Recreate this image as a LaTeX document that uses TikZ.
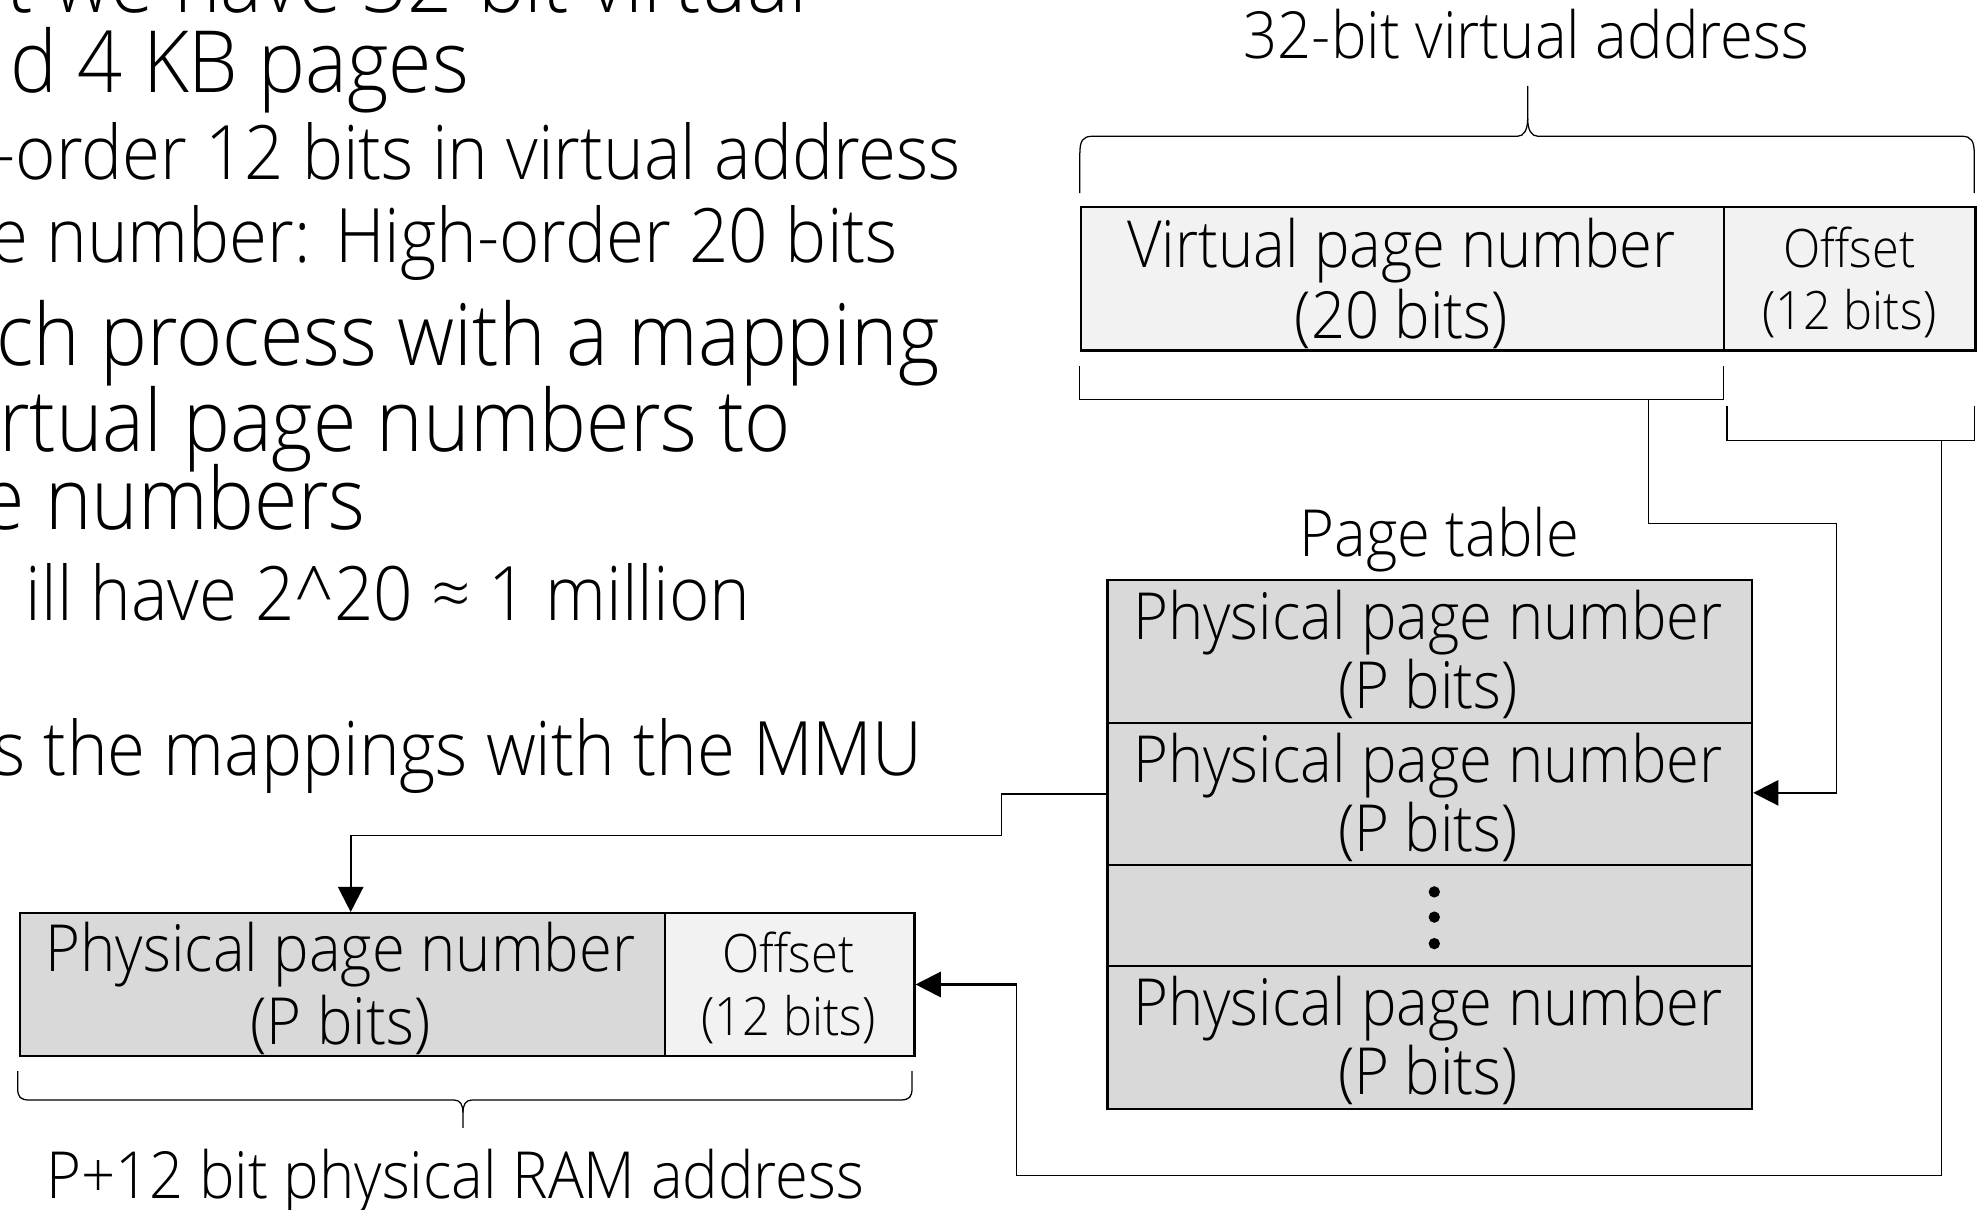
\documentclass[tikz,border=0pt]{standalone}
\usepackage{fontspec}
\setmainfont{Open Sans Light}[FakeStretch=0.92]
\usetikzlibrary{arrows.meta}
\definecolor{cellpale}{HTML}{F2F2F2}
\definecolor{cellgray}{HTML}{D9D9D9}
\tikzset{
  lbl/.style={inner sep=0pt, anchor=base, font=\fontsize{51.5}{60}\selectfont},
  offlbl/.style={inner sep=0pt, anchor=base, font=\fontsize{42}{50}\selectfont},
  bigtxt/.style={inner sep=0pt, anchor=base east, font=\fontsize{68}{76}\selectfont},
  smalltxt/.style={inner sep=0pt, anchor=base east, font=\fontsize{59.5}{66}\selectfont},
  cell/.style={draw, line width=1.8pt, inner sep=0pt, anchor=north west},
  wire/.style={line width=0.9pt},
  feed/.style={line width=1.8pt, -{Triangle[length=20pt,width=20pt]}},
  bracefine/.style={line width=1pt}
}
\begin{document}
\begin{tikzpicture}[x=1pt,y=-1pt]
\useasboundingbox (0,0) rectangle (1568,959);
\clip (0,0) rectangle (1568,959);

% slide text on the left (runs off the left edge)
\node[bigtxt]   (t1) at (640,10)  {t we have 32-bit virtual};
\node[bigtxt]   (t2) at (372,73)  {d 4 KB pages};
\node[smalltxt] (t3) at (762,142) {-order 12 bits in virtual address};
\node[smalltxt] (t4) at (712,208) {e number: High-order 20 bits};
\node[bigtxt]   (t5) at (745,290) {ch process with a mapping};
\node[bigtxt]   (t6) at (627,358) {rtual page numbers to};
\node[bigtxt]   (t7) at (290,420) {e numbers};
\node[smalltxt] (t8) at (595,492) {ill have 2\textasciicircum20 ≈ 1 million};
\node[smalltxt] (t9) at (731,615) {s the mappings with the MMU};

% virtual address
\node[lbl] (vtitle) at (1210,46) {32-bit virtual address};
\draw[bracefine] (856,153) -- (856,122) .. controls (856,112) and (858,108) .. (866,108)
  -- (1203,108) .. controls (1208,108) and (1211,103) .. (1211,94) -- (1211,68);
\draw[bracefine] (1211,94) .. controls (1211,103) and (1214,108) .. (1219,108)
  -- (1555,108) .. controls (1563,108) and (1565,112) .. (1565,122) -- (1565,153);

\node[cell, fill=cellpale, minimum width=510pt, minimum height=114pt] (vpn) at (856,163) {};
\node[cell, fill=cellpale, minimum width=199pt, minimum height=114pt] (voff) at (1366,163) {};
\node[lbl]    (vpnA) at (1111,212) {Virtual page number};
\node[lbl]    (vpnB) at (1111,268) {(20 bits)};
\node[offlbl] (voffA) at (1466,212) {Offset};
\node[offlbl] (voffB) at (1466,261) {(12 bits)};

% brackets under the two fields
\draw[wire] (856,290) -- (856,317) -- (1366,317) -- (1366,290);
\draw[wire] (1369,322) -- (1369,349) -- (1565,349) -- (1565,322);

% page table
\node[lbl] (ptitle) at (1141,441) {Page table};
\node[cell, fill=cellgray, minimum width=511pt, minimum height=113pt] (pt1) at (877,459) {};
\node[cell, fill=cellgray, minimum width=511pt, minimum height=113pt] (pt2) at (877,572) {};
\node[cell, fill=cellgray, minimum width=511pt, minimum height=80pt]  (pt3) at (877,685) {};
\node[cell, fill=cellgray, minimum width=511pt, minimum height=113pt] (pt4) at (877,765) {};
\node[lbl] (pt1A) at (1132,507) {Physical page number};
\node[lbl] (pt1B) at (1132,562) {(P bits)};
\node[lbl] (pt2A) at (1132,620) {Physical page number};
\node[lbl] (pt2B) at (1132,675) {(P bits)};
\fill (1137,707) circle (4.5pt);
\fill (1137,727) circle (4.5pt);
\fill (1137,748) circle (4.5pt);
\node[lbl] (pt4A) at (1132,813) {Physical page number};
\node[lbl] (pt4B) at (1132,868) {(P bits)};

% physical address
\node[cell, fill=cellgray, minimum width=511pt, minimum height=113pt] (ppn) at (15,723) {};
\node[cell, fill=cellpale, minimum width=198pt, minimum height=113pt] (poff) at (526,723) {};
\node[lbl]    (ppnA) at (270,770) {Physical page number};
\node[lbl]    (ppnB) at (270,828) {(P bits)};
\node[offlbl] (poffA) at (625,771) {Offset};
\node[offlbl] (poffB) at (625,821) {(12 bits)};
\draw[bracefine] (14,849) -- (14,862) .. controls (14,870) and (16,872) .. (24,872)
  -- (360,872) .. controls (365,872) and (367,876) .. (367,882) -- (367,894);
\draw[bracefine] (367,882) .. controls (367,876) and (369,872) .. (374,872)
  -- (713,872) .. controls (721,872) and (723,870) .. (723,862) -- (723,849);
\node[lbl] (ptext) at (361,950) {P+12 bit physical RAM address};

% connectors
\coordinate (vbr)   at (1307,317);
\coordinate (vturn) at (1456,415);
\coordinate (vin)   at (1456,628.5);
\draw[wire] (vbr) |- (vturn) -- (vin);
\draw[feed] (vin) -- (vin -| pt2.east);

\coordinate (obr)  at (1539,349);
\coordinate (obot) at (806,932);
\draw[wire] (obr) |- (obot) -- (obot |- poff.east);
\draw[feed] (obot |- poff.east) -- (poff.east);

\coordinate (pjog)  at (794,662);
\coordinate (pdrop) at (278,662);
\draw[wire] (pt2.west) -| (pjog) -- (pdrop);
\draw[feed] (pdrop) -- (pdrop |- ppn.north);
\end{tikzpicture}
\end{document}
